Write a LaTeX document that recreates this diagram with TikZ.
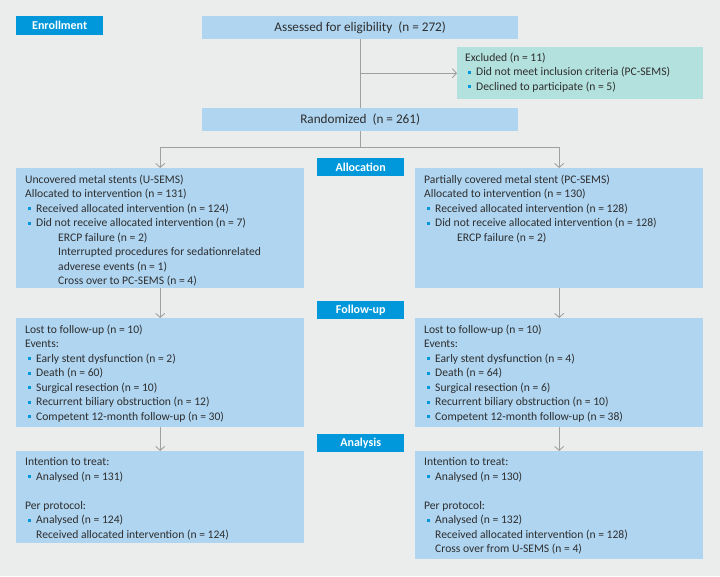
\documentclass[tikz,border=0pt]{standalone}
\usepackage{fontspec}
\setmainfont{Carlito}
\usetikzlibrary{arrows.meta,positioning,calc}
\definecolor{pagebg}{HTML}{EBECEC}
\definecolor{boxblue}{HTML}{AFD5F1}
\definecolor{stageblue}{HTML}{0098DA}
\definecolor{exclteal}{HTML}{B3E1DD}
\definecolor{flowgray}{HTML}{A0A0A0}
\definecolor{txtgray}{HTML}{2E2E2E}
\newcommand{\bsq}{\makebox[11pt][l]{\hspace{3pt}\textcolor{stageblue}{\rule[2pt]{3pt}{3pt}}}}
\newcommand{\subind}{\hspace*{33pt}}

\begin{document}
\begin{tikzpicture}[x=1pt,y=-1pt,
  stage/.style={fill=stageblue,text=white,font=\bfseries\fontsize{12}{14}\selectfont,
    minimum width=87pt,minimum height=18.5pt,inner sep=0pt,anchor=north west},
  box/.style={fill=boxblue,inner sep=0pt,anchor=north west,minimum width=288pt},
  topbox/.style={fill=boxblue,inner sep=0pt,anchor=north west,minimum width=316pt,
    minimum height=23pt,text=txtgray,font=\fontsize{13.2}{15}\selectfont},
  boxtext/.style={anchor=north west,inner sep=0pt,align=left,text=txtgray,
    font=\fontsize{11.6}{14.5}\selectfont},
  flow/.style={draw=flowgray,line width=0.9pt},
  arr/.style={flow,-{Straight Barb[length=4pt,width=9pt]}}]
  \fill[pagebg] (0,0) rectangle (720,576);
  \useasboundingbox (0,0) rectangle (720,576);
  % stage labels
  \node[stage] (enrol) at (16,16) {Enrollment};
  \node[stage] (alloc) at (317,157.5) {Allocation};
  \node[stage] (follow) at (317,300.5) {Follow-up};
  \node[stage] (analysis) at (317,433.5) {Analysis};
  % enrollment
  \node[topbox] (assess) at (202,16) {Assessed for eligibility~~(n = 272)};
  \node[box,fill=exclteal,minimum width=246pt,minimum height=52pt] (excl) at (457,47) {};
  \node[boxtext] (excl-t) at ($(excl.north west)+(8,5.5)$)
    {Excluded (n = 11)\\ \bsq Did not meet inclusion criteria (PC-SEMS)\\ \bsq Declined to participate (n = 5)};
  \node[topbox] (rand) at (202,108) {Randomized~~(n = 261)};
  % allocation
  \node[box,minimum height=120pt] (usems) at (16,168) {};
  \node[boxtext] (usems-t) at ($(usems.north west)+(9,6.5)$)
    {Uncovered metal stents (U-SEMS)\\ Allocated to intervention (n = 131)\\
     \bsq Received allocated intervention (n = 124)\\
     \bsq Did not receive allocated intervention (n = 7)\\
     \subind ERCP failure (n = 2)\\
     \subind Interrupted procedures for sedationrelated\\
     \subind adverese events (n = 1)\\
     \subind Cross over to PC-SEMS (n = 4)};
  \node[box,minimum height=120pt] (pcsems) at (415,168) {};
  \node[boxtext] (pcsems-t) at ($(pcsems.north west)+(9,6.5)$)
    {Partially covered metal stent (PC-SEMS)\\ Allocated to intervention (n = 130)\\
     \bsq Received allocated intervention (n = 128)\\
     \bsq Did not receive allocated intervention (n = 128)\\
     \subind ERCP failure (n = 2)};
  % follow-up
  \node[box,minimum height=108.5pt] (fu-l) at (16,318) {};
  \node[boxtext] (fu-l-t) at ($(fu-l.north west)+(9,6.5)$)
    {Lost to follow-up (n = 10)\\ Events:\\
     \bsq Early stent dysfunction (n = 2)\\
     \bsq Death (n = 60)\\
     \bsq Surgical resection (n = 10)\\
     \bsq Recurrent biliary obstruction (n = 12)\\
     \bsq Competent 12-month follow-up (n = 30)};
  \node[box,minimum height=108.5pt] (fu-r) at (415,318) {};
  \node[boxtext] (fu-r-t) at ($(fu-r.north west)+(9,6.5)$)
    {Lost to follow-up (n = 10)\\ Events:\\
     \bsq Early stent dysfunction (n = 4)\\
     \bsq Death (n = 64)\\
     \bsq Surgical resection (n = 6)\\
     \bsq Recurrent biliary obstruction (n = 10)\\
     \bsq Competent 12-month follow-up (n = 38)};
  % analysis
  \node[box,minimum height=92pt] (an-l) at (16,451) {};
  \node[boxtext] (an-l-t) at ($(an-l.north west)+(9,6.5)$)
    {Intention to treat:\\ \bsq Analysed (n = 131)\\[14.5pt]
     Per protocol:\\ \bsq Analysed (n = 124)\\
     \hspace*{11pt}Received allocated intervention (n = 124)};
  \node[box,minimum height=108pt] (an-r) at (415,451) {};
  \node[boxtext] (an-r-t) at ($(an-r.north west)+(9,6.5)$)
    {Intention to treat:\\ \bsq Analysed (n = 130)\\[14.5pt]
     Per protocol:\\ \bsq Analysed (n = 132)\\
     \hspace*{11pt}Received allocated intervention (n = 128)\\
     \hspace*{11pt}Cross over from U-SEMS (n = 4)};
  % connectors
  \draw[flow] (assess.south) -- (rand.north);
  \draw[arr] (assess.south |- excl.west) -- (excl.west);
  \coordinate (fork) at ($(rand.south)+(0,16.5)$);
  \draw[flow] (rand.south) -- (fork);
  \draw[arr] (fork) -| (usems.north);
  \draw[arr] (fork) -| (pcsems.north);
  \draw[arr] (usems.south) -- (fu-l.north);
  \draw[arr] (pcsems.south) -- (fu-r.north);
  \draw[arr] (fu-l.south) -- (an-l.north);
  \draw[arr] (fu-r.south) -- (an-r.north);
\end{tikzpicture}
\end{document}
